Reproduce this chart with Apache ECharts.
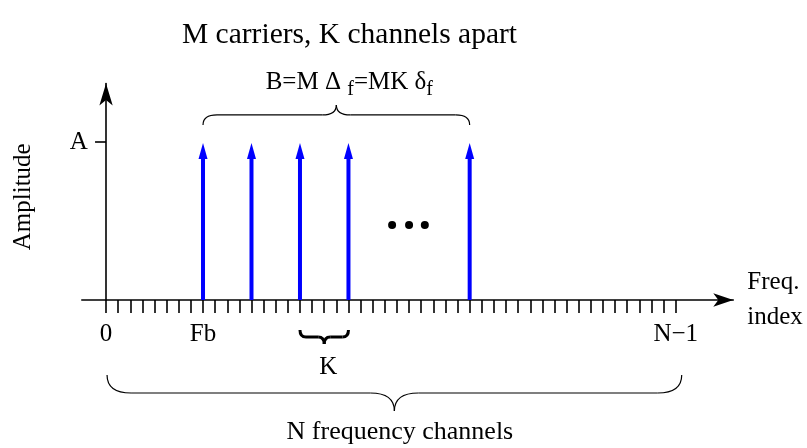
<!DOCTYPE html>
<html>
<head>
<meta charset="utf-8">
<script src="https://cdn.jsdelivr.net/npm/echarts@6/dist/echarts.min.js"></script>
<style>
  html, body { margin: 0; padding: 0; background: #fff; }
  #chart { width: 807px; height: 448px; }
</style>
</head>
<body>
<div id="chart"></div>
<script>
// carrier positions (frequency channel index) and amplitude
const carrierIdx = [8, 12, 16, 20, 30]
const carrierAmp = [1, 1, 1, 1, 1]
// "..." between the 4th and the last carrier
const dotIdx = [23.6, 25, 26.3]
const dotAmp = [0.475, 0.475, 0.475]
// tick positions / labels
const freqTicks = [...Array(48).keys()]
const freqLabelIdx = [0, 8, 47]
const freqLabelTxt = ['0', 'Fb', 'N\u22121']
const ampTicks = [1]
const ampLabels = ['A']
// braces: [from index, to index]
const bwSpan = [8, 30]
const kSpan = [16, 20]
const nSpan = [0, 47]

const FONT = '"Liberation Serif", "DejaVu Serif", serif'
const chart = echarts.init(document.getElementById('chart'))

// draw a curly brace between x1 and x2, ends at y0, tip at y0 + h
const brace = (x1, x2, y0, h, r, lw) => {
    const xm = (x1 + x2) / 2
    const ym = y0 + h / 2
    const yt = y0 + h
    const st = { stroke: '#000', lineWidth: lw, fill: null }
    const q = (a, b, c, d, e, f) => ({ type: 'bezierCurve', shape: { x1: a, y1: b, cpx1: c, cpy1: d, x2: e, y2: f }, style: st })
    const l = (a, b, c, d) => ({ type: 'line', shape: { x1: a, y1: b, x2: c, y2: d }, style: st })
    return [
        q(x1, y0, x1, ym, x1 + r, ym),
        l(x1 + r, ym, xm - r, ym),
        q(xm - r, ym, xm, ym, xm, yt),
        q(xm, yt, xm, ym, xm + r, ym),
        l(xm + r, ym, x2 - r, ym),
        q(x2 - r, ym, x2, ym, x2, y0)
    ]
}

const option = {
    animation: false,
    title: {
        text: 'M carriers, K channels apart',
        left: 177,
        top: 15,
        textStyle: { fontFamily: FONT, fontSize: 29.5, fontWeight: 'normal', color: '#000' }
    },
    grid: { left: 81.8, right: 73.7, top: 83.5, bottom: 148, containLabel: false, outerBoundsMode: 'none' },
    xAxis: {
        type: 'value',
        min: -2,
        max: 51.75,
        splitLine: { show: false },
        axisLine: {
            onZero: true,
            symbol: ['none', 'arrow'],
            symbolSize: [10, 20],
            lineStyle: { color: '#000', width: 1.6 }
        },
        axisTick: { show: true, customValues: freqTicks, length: 13, lineStyle: { color: '#000', width: 1.6 } },
        axisLabel: {
            customValues: freqLabelIdx,
            formatter: v => freqLabelTxt[freqLabelIdx.indexOf(v)],
            margin: 22,
            fontFamily: FONT, fontSize: 25, color: '#000'
        },
        name: 'Freq.\nindex',
        nameLocation: 'end',
        nameGap: 14,
        nameTextStyle: { fontFamily: FONT, fontSize: 25, color: '#000', align: 'left', verticalAlign: 'middle', lineHeight: 35, padding: [34, 0, 0, 0] }
    },
    yAxis: {
        type: 'value',
        min: 0,
        max: 1.37,
        splitLine: { show: false },
        axisLine: {
            onZero: true,
            symbol: ['none', 'arrow'],
            symbolSize: [10, 22],
            lineStyle: { color: '#000', width: 1.6 }
        },
        axisTick: { show: true, customValues: ampTicks, length: 11, lineStyle: { color: '#000', width: 1.6 } },
        // label and name stay at the grid edge, not at the shifted axis
        axisLabel: {
            customValues: ampTicks,
            formatter: v => ampLabels[ampTicks.indexOf(v)],
            margin: -6,
            fontFamily: FONT, fontSize: 25, color: '#000'
        },
        name: 'Amplitude',
        nameLocation: 'middle',
        nameRotate: 90,
        nameGap: 46,
        nameMoveOverlap: false,
        nameTextStyle: { fontFamily: FONT, fontSize: 25, color: '#000', padding: [0, 10, 0, 0] }
    },
    series: [
        // carriers as blue arrows
        {
            type: 'custom',
            data: carrierIdx.map((x, i) => [x, carrierAmp[i]]),
            renderItem: (params, api) => {
                const base = api.coord([api.value(0), 0])
                const tip = api.coord([api.value(0), api.value(1)])
                return {
                    type: 'group',
                    children: [
                        { type: 'line', shape: { x1: base[0], y1: base[1], x2: tip[0], y2: tip[1] + 12 }, style: { stroke: '#0000ff', lineWidth: 4 } },
                        { type: 'polygon', shape: { points: [[tip[0] - 4.5, tip[1] + 17], [tip[0], tip[1] + 1], [tip[0] + 4.5, tip[1] + 17]] }, style: { fill: '#0000ff' } }
                    ]
                }
            }
        },
        {
            type: 'scatter',
            data: dotIdx.map((x, i) => [x, dotAmp[i]]),
            symbolSize: 8,
            itemStyle: { color: '#000', opacity: 1 }
        },
        // braces and their labels
        {
            type: 'custom',
            data: [0],
            clip: false,
            renderItem: (params, api) => {
                const y0 = api.coord([0, 0])[1]
                const yA = api.coord([0, 1])[1]
                const bx1 = api.coord([bwSpan[0], 0])[0]
                const bx2 = api.coord([bwSpan[1], 0])[0]
                const kx1 = api.coord([kSpan[0], 0])[0]
                const kx2 = api.coord([kSpan[1], 0])[0]
                const nx1 = api.coord([nSpan[0], 0])[0]
                const nx2 = api.coord([nSpan[1], 0])[0]
                const txt = (t, x, y, fs) => ({ type: 'text', style: { text: t, x, y, align: 'center', verticalAlign: 'middle', font: fs + 'px ' + FONT, fill: '#000' } })
                return {
                    type: 'group',
                    children: [
                        ...brace(bx1, bx2, yA - 17, -20, 14, 1.2),
                        ...brace(kx1, kx2, y0 + 30, 14, 6, 3),
                        ...brace(nx1 + 1, nx2 + 6, y0 + 75, 36, 24, 1.2),
                        {
                            type: 'text',
                            style: {
                                text: 'B=M \u0394 {s|f}=MK \u03b4{s|f}',
                                x: (bx1 + bx2) / 2 + 13, y: yA - 60,
                                align: 'center', verticalAlign: 'middle',
                                font: '25px ' + FONT, fill: '#000',
                                rich: { s: { fontFamily: FONT, fontSize: 20, padding: [15, 0, 0, 0] } }
                            }
                        },
                        txt('K', (kx1 + kx2) / 2 + 4, y0 + 67, 25),
                        txt('N frequency channels', (nx1 + nx2) / 2 + 9, y0 + 132, 26)
                    ]
                }
            }
        }
    ]
}
chart.setOption(option)
</script>
</body>
</html>
